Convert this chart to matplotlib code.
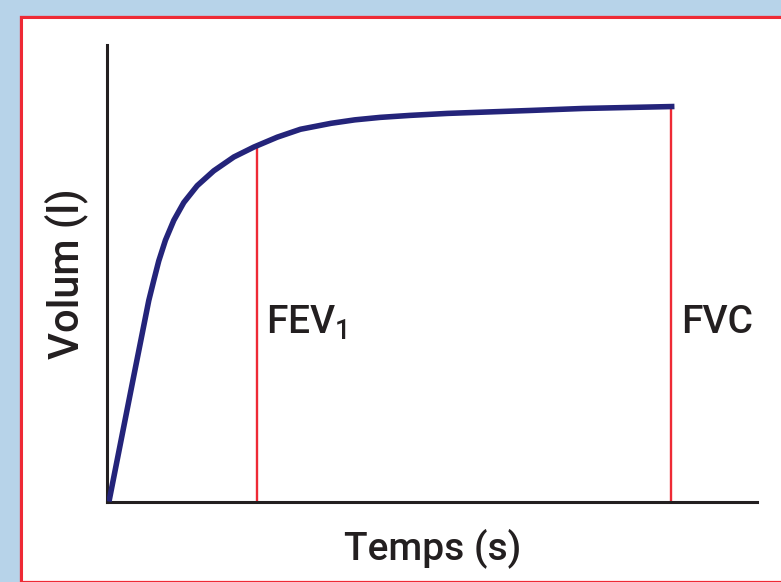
import matplotlib
matplotlib.use('Agg')
import matplotlib.pyplot as plt
from matplotlib.patches import Rectangle

# spirometry curve (time in s, volume in l)
time_s = [0.01, 0.17, 0.277, 0.31, 0.344, 0.389, 0.445, 0.512, 0.602, 0.713, 0.848,
          0.982, 1.139, 1.295, 1.50, 1.66, 1.83, 2.03, 2.28, 2.84, 3.19, 3.805]
volume_l = [0.0, 1.22, 2.03, 2.23, 2.43, 2.64, 2.84, 3.02, 3.19, 3.34, 3.48,
            3.58, 3.68, 3.76, 3.82, 3.855, 3.88, 3.90, 3.92, 3.95, 3.97, 3.99]
marker_names = ['FEV$_\\mathregular{1}$', 'FVC']
marker_time = [1.0, 3.785]
marker_volume = [3.58, 3.99]

W, H = 781, 582
plt.rcParams['font.family'] = ['Roboto', 'DejaVu Sans']
plt.rcParams['font.weight'] = 'medium'
plt.rcParams['axes.labelweight'] = 'medium'
plt.rcParams['mathtext.fontset'] = 'custom'
plt.rcParams['mathtext.rm'] = 'Roboto:medium'

fig = plt.figure(figsize=(W / 100, H / 100), dpi=100, facecolor='#b7d3e9')

# white panel with the red frame
fig.patches.append(Rectangle((20.5 / W, -0.5 / H), 1.2, (582 - 16.5 + 0.5) / H,
                             transform=fig.transFigure, facecolor='white',
                             edgecolor='#ee2a35', linewidth=2.2, zorder=-2))
fig.patches.append(Rectangle((20.5 / W, (582 - 581.5) / H), 1.2, (581.5 - 16.5) / H,
                             transform=fig.transFigure, facecolor='none',
                             edgecolor='#ee2a35', linewidth=1.6, zorder=-1))

ax = fig.add_axes([107.5 / W, (H - 501.5) / H, (757 - 107.5) / W, (501.5 - 45) / H])
ax.set_facecolor('none')
ax.plot(time_s, volume_l, color='#24247a', lw=4.0, solid_joinstyle='round',
        solid_capstyle='butt', zorder=3)
for name, t, v in zip(marker_names, marker_time, marker_volume):
    ax.plot([t, t], [0, v], color='#ee2a35', lw=1.7, zorder=2)
    ax.text(t + 0.065, 1.70, name, fontsize=28, color='#231f20', ha='left', va='baseline')

ax.set_xlim(0, (757 - 107.5) / 149)
ax.set_ylim(0, (501.5 - 45) / 99)
for side in ['top', 'right']:
    ax.spines[side].set_visible(False)
for side in ['left', 'bottom']:
    ax.spines[side].set_linewidth(2.2)
    ax.spines[side].set_color('#231f20')
ax.set_xticks([])
ax.set_yticks([])
ax.set_xlabel('Temps (s)', fontsize=28, color='#231f20', labelpad=19)
ax.set_ylabel('Volum (l)', fontsize=30, color='#231f20', labelpad=14)

fig.savefig('out.png', dpi=100, facecolor=fig.get_facecolor())
